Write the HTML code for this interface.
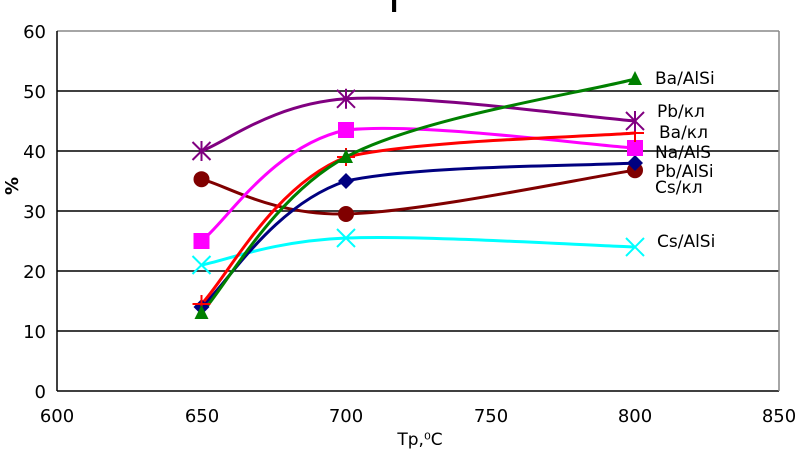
<!DOCTYPE html><html><head><meta charset="utf-8"><style>body{margin:0;background:#fff}svg{display:block;font-family:"DejaVu Sans","Liberation Sans",sans-serif}</style></head><body>
<svg width="800" height="451" viewBox="0 0 800 451" xmlns="http://www.w3.org/2000/svg">
<rect width="800" height="451" fill="#fff"/>
<text x="397" y="12" font-size="22" font-weight="bold" text-anchor="middle">Г</text>
<g stroke="#000" stroke-width="1.5">
<line x1="57" y1="31" x2="779" y2="31" stroke="#888"/>
<line x1="57" y1="91" x2="779" y2="91"/><line x1="57" y1="151" x2="779" y2="151"/>
<line x1="57" y1="211" x2="779" y2="211"/><line x1="57" y1="271" x2="779" y2="271"/>
<line x1="57" y1="331" x2="779" y2="331"/><line x1="57" y1="391" x2="779" y2="391"/>
<line x1="779" y1="31" x2="779" y2="391" stroke="#888"/>
<line x1="57" y1="31" x2="57" y2="391"/>
</g>
<g font-size="18" text-anchor="end">
<text x="46" y="38">60</text><text x="46" y="98">50</text><text x="46" y="158">40</text><text x="46" y="218">30</text><text x="46" y="278">20</text><text x="46" y="338">10</text><text x="46" y="398">0</text>
</g>
<g font-size="18" text-anchor="middle">
<text x="57" y="422">600</text><text x="202" y="422">650</text><text x="346" y="422">700</text><text x="491" y="422">750</text><text x="635" y="422">800</text><text x="779" y="422">850</text>
<text x="420" y="445" font-size="17">Tр,⁰С</text>
</g>
<text x="18" y="186" font-size="18" font-weight="bold" transform="rotate(-90 18 186)" text-anchor="middle">%</text>
<g fill="none" stroke-width="3">
<path stroke="#00ffff" d="M201.5,265 C226.1,260.4 272.3,241.1 346,238 C419.7,234.9 585.9,245.5 635,247"/>
<path stroke="#800000" d="M201.5,179.2 C226.1,185.1 272.3,215.5 346,214 C419.7,212.5 585.9,177.6 635,170.2"/>
<path stroke="#000080" d="M201.5,307 C226.1,285.6 272.3,205.5 346,181 C419.7,165 585.9,166.1 635,163"/>
<path stroke="#ff00ff" d="M201.5,241 C226.1,222.1 272.3,145.8 346,130 C419.7,122 585.9,144.9 635,148"/>
<path stroke="#ff0000" d="M201.5,304 C226.1,279 272.3,186.1 346,157 C419.7,140 585.9,137.1 635,133"/>
<path stroke="#800080" d="M201.5,151 C226.1,142.1 272.3,103.9 346,98.8 C419.7,93.7 585.9,117.2 635,121"/>
<path stroke="#008000" d="M201.5,313 C226.1,286.5 272.3,196.8 346,157 C419.7,117.2 585.9,92.3 635,79"/>
</g>
<g>
<path stroke="#00ffff" stroke-width="2" d="M192.5,256 l18,18 m0,-18 l-18,18 M337,229 l18,18 m0,-18 l-18,18 M626,238 l18,18 m0,-18 l-18,18"/>
<circle cx="201.5" cy="179.2" r="8" fill="#800000"/><circle cx="346" cy="214" r="8" fill="#800000"/><circle cx="635" cy="170.2" r="8" fill="#800000"/>
<polygon fill="#000080" points="201.5,299 209.5,307 201.5,315 193.5,307"/><polygon fill="#000080" points="346,173 354,181 346,189 338,181"/><polygon fill="#000080" points="635,155 643,163 635,171 627,163"/>
<rect fill="#ff00ff" x="193.5" y="233" width="16" height="16"/><rect fill="#ff00ff" x="338" y="122" width="16" height="16"/><rect fill="#ff00ff" x="627" y="140" width="16" height="16"/>
<path stroke="#ff0000" stroke-width="2" d="M192.5,304 h18 m-9,-9 v18 M337,157 h18 m-9,-9 v18 M626,133 h18 m-9,-9 v18"/>
<path stroke="#800080" stroke-width="2" d="M192.5,142 l18,18 m0,-18 l-18,18 m9,-19 v20 M337,89.8 l18,18 m0,-18 l-18,18 m9,-19 v20 M626,112 l18,18 m0,-18 l-18,18 m9,-19 v20"/>
<polygon fill="#008000" points="201.5,305 194.5,319 208.5,319"/><polygon fill="#008000" points="346,149 339,163 353,163"/><polygon fill="#008000" points="635,71 628,85 642,85"/>
</g>
<g font-size="17">
<text x="655" y="84">Ba/AlSi</text><text x="657" y="117">Pb/кл</text><text x="659" y="138">Ba/кл</text>
<text x="655" y="158">Na/AlS</text><text x="655" y="177">Pb/AlSi</text><text x="655" y="193">Cs/кл</text><text x="657" y="247">Cs/AlSi</text>
</g>
</svg></body></html>
